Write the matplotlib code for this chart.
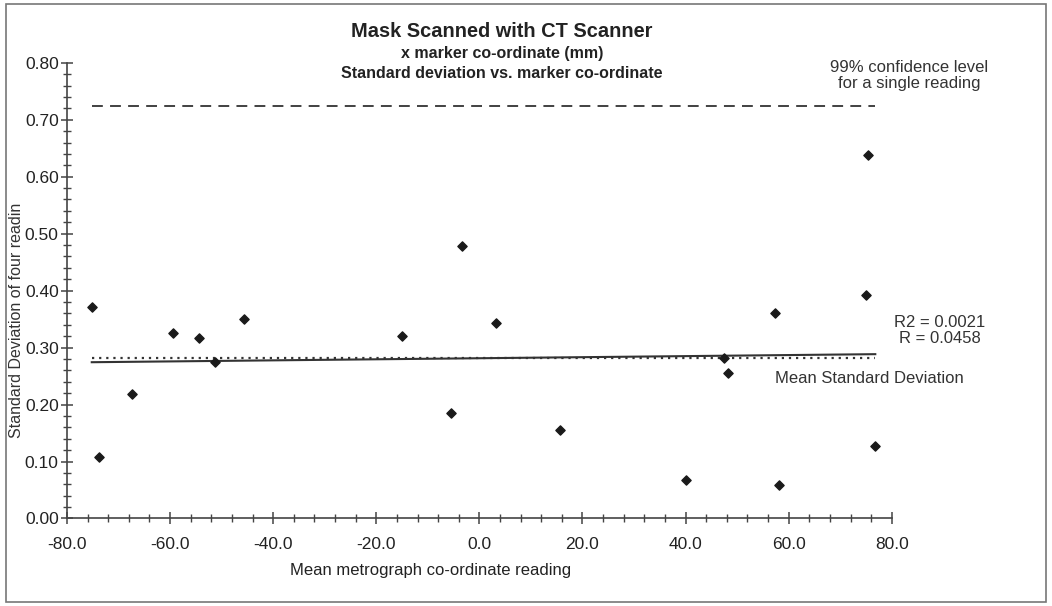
import numpy as np
import matplotlib.pyplot as plt
from matplotlib.ticker import MultipleLocator, FormatStrFormatter
from matplotlib.patches import Rectangle

plt.rcParams['font.family'] = ['Liberation Sans', 'DejaVu Sans']

# mean metrograph co-ordinate (mm) and standard deviation of four readings
x_coord = [-75.2, -73.7, -67.3, -59.4, -54.3, -51.3, -45.6, -15.1, -5.5, 3.2,
           -3.4, 15.7, 40.0, 47.4, 48.3, 57.4, 58.2, 76.8, 75.3, 75.0]
std_dev = [0.372, 0.108, 0.219, 0.326, 0.317, 0.274, 0.351, 0.320, 0.185, 0.344,
           0.479, 0.156, 0.067, 0.281, 0.256, 0.361, 0.058, 0.127, 0.638, 0.392]
conf_99 = 0.725  # 99% confidence level for a single reading

x = np.array(x_coord)
y = np.array(std_dev)
slope, icpt = np.polyfit(x, y, 1)
xs = np.array([x.min(), x.max()])

fig = plt.figure(figsize=(10.52, 6.06), dpi=100)
ax = fig.add_axes([0.0637, 0.1444, 0.784, 0.752])

ax.plot(xs, [conf_99, conf_99], color='#333333', lw=1.3, ls=(0, (6, 4)))
ax.plot(xs, [y.mean(), y.mean()], color='#333333', lw=1.6, ls=(0, (1, 2.2)))
ax.plot(xs, slope * xs + icpt, color='#333333', lw=1.5)
ax.scatter(x, y, marker='D', s=22, color='#1a1a1a', zorder=3)

ax.set_xlim(-80, 80)
ax.set_ylim(0, 0.8)
ax.xaxis.set_major_locator(MultipleLocator(20))
ax.xaxis.set_minor_locator(MultipleLocator(4))
ax.yaxis.set_major_locator(MultipleLocator(0.1))
ax.yaxis.set_minor_locator(MultipleLocator(0.02))
ax.xaxis.set_major_formatter(FormatStrFormatter('%.1f'))
ax.yaxis.set_major_formatter(FormatStrFormatter('%.2f'))
for s in ['top', 'right']:
    ax.spines[s].set_visible(False)
for s in ['left', 'bottom']:
    ax.spines[s].set_color('#444444')
    ax.spines[s].set_linewidth(1.2)
ax.tick_params(which='major', direction='inout', length=9, width=1.1,
               color='#444444', labelsize=12.5, labelcolor='#222222')
ax.tick_params(which='minor', direction='inout', length=6, width=1.0, color='#444444')
ax.tick_params(axis='x', which='major', pad=9)
ax.tick_params(axis='y', which='major', pad=1.5)

fig.text(0.409, 0.059, 'Mean metrograph co-ordinate reading', ha='center', va='center',
         fontsize=12, color='#222222')
fig.text(0.016, 0.472, 'Standard Deviation of four readin', rotation=90,
         ha='center', va='center', fontsize=11.5, color='#333333')

fig.text(0.477, 0.948, 'Mask Scanned with CT Scanner', ha='center', va='center',
         fontsize=14.4, fontweight='bold', color='#222222')
fig.text(0.477, 0.912, 'x marker co-ordinate (mm)', ha='center', va='center',
         fontsize=11.5, fontweight='bold', color='#222222')
fig.text(0.477, 0.879, 'Standard deviation vs. marker co-ordinate', ha='center', va='center',
         fontsize=11.5, fontweight='bold', color='#222222')

fig.text(0.864, 0.875, '99% confidence level\nfor a single reading', ha='center', va='center',
         fontsize=12, color='#333333', linespacing=1.1)
fig.text(0.893, 0.455, 'R2 = 0.0021\nR = 0.0458', ha='center', va='center',
         fontsize=12, color='#333333', linespacing=1.1)
fig.text(0.737, 0.376, 'Mean Standard Deviation', ha='left', va='center',
         fontsize=12, color='#333333')

fig.patches.append(Rectangle((0.006, 0.007), 0.988, 0.986, transform=fig.transFigure,
                             fill=False, ec='#777777', lw=1.2))

fig.savefig('out.png', dpi=100)
